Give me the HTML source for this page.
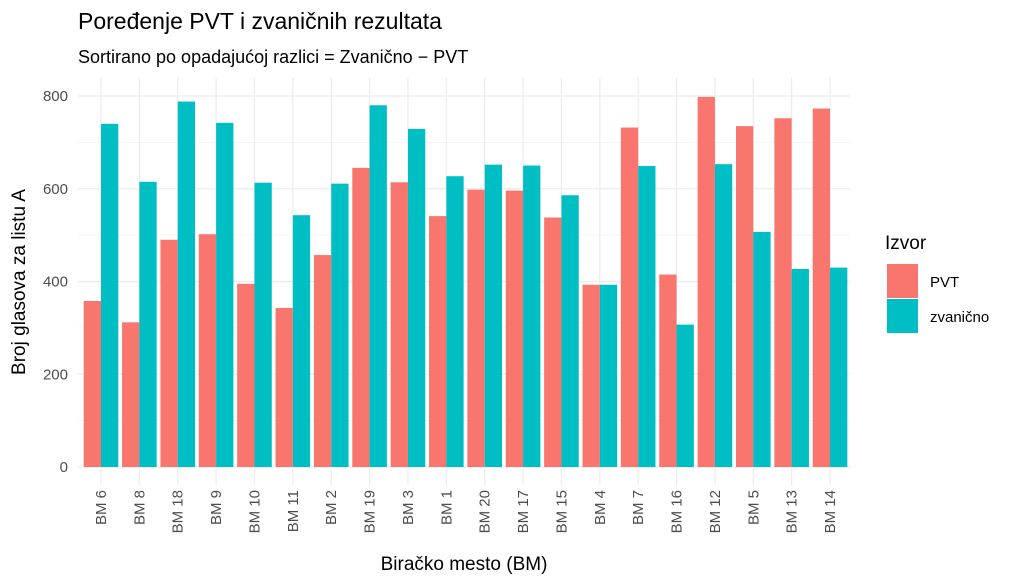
<!DOCTYPE html>
<html><head><meta charset="utf-8"><style>body{margin:0;background:#fff}svg{display:block}</style></head><body>
<svg width="1024" height="585" xmlns="http://www.w3.org/2000/svg" font-family="Liberation Sans, DejaVu Sans, sans-serif">
<rect width="1024" height="585" fill="#fff"/>
<text x="78" y="29" font-size="23" fill="#000">Poređenje PVT i zvaničnih rezultata</text>
<text x="78" y="63" font-size="18" fill="#000">Sortirano po opadajućoj razlici = Zvanično − PVT</text>
<g id="grid"></g>
<g id="bars"></g>
<g id="labels"></g>
<text x="25" y="282" font-size="19" text-anchor="middle" transform="rotate(-90 25 282)">Broj glasova za listu A</text>
<text x="464" y="570" font-size="19" text-anchor="middle">Biračko mesto (BM)</text>
<text x="885" y="249" font-size="19">Izvor</text>
<rect x="887" y="264" width="31" height="34" fill="#F8766D"/>
<rect x="887" y="299" width="31" height="34" fill="#00BFC4"/>
<text x="930" y="287" font-size="15">PVT</text>
<text x="930" y="322" font-size="15">zvanično</text>
<script>
const d=[["BM 6",358,740],["BM 8",312,615],["BM 18",490,788],["BM 9",502,742],["BM 10",395,613],["BM 11",343,543],["BM 2",457,611],["BM 19",645,780],["BM 3",614,729],["BM 1",541,627],["BM 20",598,652],["BM 17",596,650],["BM 15",538,586],["BM 4",393,393],["BM 7",732,649],["BM 16",415,307],["BM 12",798,653],["BM 5",735,507],["BM 13",752,427],["BM 14",773,430]];
const ns="http://www.w3.org/2000/svg";
function el(p,t,a,txt){const e=document.createElementNS(ns,t);for(const k in a)e.setAttribute(k,a[k]);if(txt)e.textContent=txt;document.getElementById(p).appendChild(e);}
const y0=467,s=0.46375,x0=101,sp=38.37,w=17.3;
for(let v=0;v<=800;v+=100){const y=y0-v*s;el("grid","line",{x1:78,x2:850,y1:y,y2:y,stroke:"#ebebeb","stroke-width":v%200?0.6:1.2});if(v%200==0)el("labels","text",{x:68,y:y+5,"font-size":15,fill:"#4d4d4d","text-anchor":"end"},String(v));}
d.forEach((r,i)=>{const cx=x0+i*sp;el("grid","line",{x1:cx,x2:cx,y1:78,y2:485,stroke:"#ebebeb","stroke-width":1.2});
el("bars","rect",{x:cx-w,y:y0-r[1]*s,width:w,height:r[1]*s,fill:"#F8766D"});
el("bars","rect",{x:cx,y:y0-r[2]*s,width:w,height:r[2]*s,fill:"#00BFC4"});
el("labels","text",{x:cx+5,y:490,"font-size":15,fill:"#4d4d4d","text-anchor":"end",transform:`rotate(-90 ${cx+5} 490)`},r[0]);});
</script>
</svg>
</body></html>
